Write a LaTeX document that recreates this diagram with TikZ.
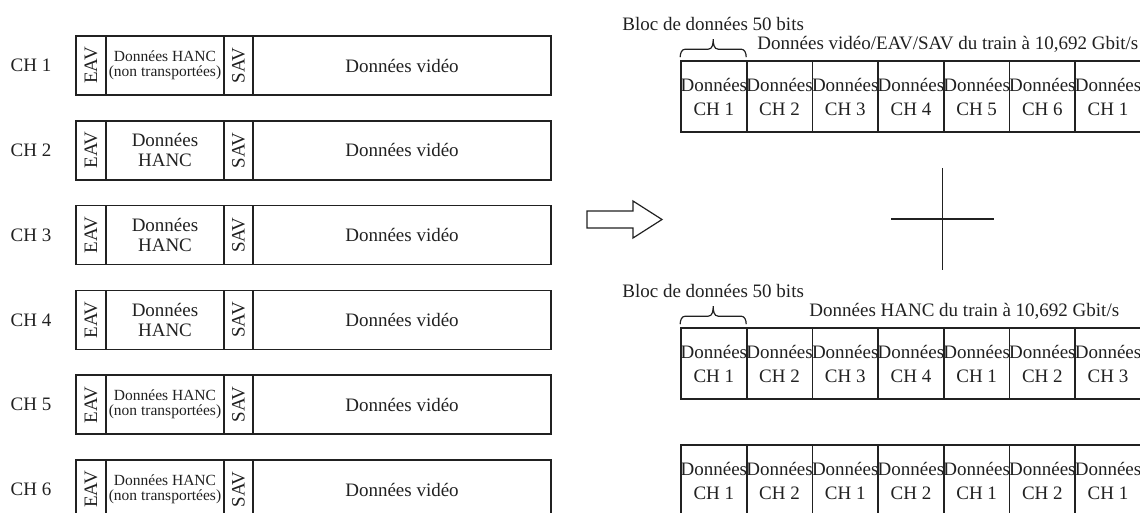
\documentclass[tikz,border=0pt]{standalone}
\usepackage{fontspec}
\setmainfont{Liberation Serif}
\definecolor{ink}{gray}{0.13}
\newcommand{\hntxt}{Données HANC\\(non transportées)}
\newcommand{\hhtxt}{Données\\HANC}
%% brace over the first block of a stream
\newcommand{\blocbrace}[1]{\draw[brc] ([yshift=1.5pt]#1.north west) to[out=90,in=180] ++(5,-8)
  -- ++(23,0) to[out=0,in=-90] ++(5,-10) to[out=-90,in=180] ++(5,10) -- ++(23,0)
  to[out=0,in=90] ++(5,8);}

\begin{document}
\begin{tikzpicture}[x=0.5pt,y=-0.5pt,
  every node/.style={inner sep=0pt, text=ink, font=\fontsize{9.5}{10}\selectfont},
  cell/.style={draw=ink, line width=0.8pt, minimum height=29.5pt, align=center},
  hsmall/.style={font=\fontsize{7.75}{7.5}\selectfont},
  hbig/.style={font=\fontsize{9.5}{10}\selectfont},
  blk/.style={draw=ink, line width=0.8pt, minimum width=32.85pt, minimum height=35.5pt,
    align=center, font=\fontsize{9.5}{12}\selectfont},
  brc/.style={draw=ink, line width=0.6pt}]

  \clip (0,0) rectangle (1140,513);

  \newcommand\R{84.8}
  \newcommand\W{65.7}

  %% left: the six channels
  \foreach \i/\t/\s in {1/\hntxt/hsmall, 2/\hhtxt/hbig, 3/\hhtxt/hbig,
                        4/\hhtxt/hbig, 5/\hntxt/hsmall, 6/\hntxt/hsmall}{
    \pgfmathsetmacro\yy{65.5+\R*(\i-1)}
    \node (ch\i) at (31,\yy) {CH \i};
    \node[cell, minimum width=15pt] (eav\i) at (91,\yy) {\rotatebox{90}{EAV}};
    \node[cell, \s, minimum width=59pt] (hanc\i) at (165,\yy) {\t};
    \node[cell, minimum width=14.5pt] (sav\i) at (238.5,\yy) {\rotatebox{90}{SAV}};
    \node[cell, minimum width=149pt] (vid\i) at (402,\yy) {Données vidéo};
  }

  %% big arrow
  \draw[draw=ink, line width=0.6pt] (587,211) -- (633,211) -- (633,201) -- (662,219.5)
    -- (633,238) -- (633,228) -- (587,228) -- cycle;

  %% right: video/EAV/SAV stream
  \node[anchor=west] (bloc1) at (622,24) {Bloc de données 50 bits};
  \node[anchor=west] (flux1) at (757,44) {Données vidéo/EAV/SAV du train à 10,692 Gbit/s};
  \foreach \c [count=\k from 0] in {1,2,3,4,5,6,1}
    \node[blk] (va\k) at (713.85+\W*\k, 96.5) {\makebox[0pt]{Données}\\CH \c};
  \blocbrace{va0}

  %% plus sign
  \draw[draw=ink, line width=0.7pt] (891,219) -- (994,219) (942.5,168) -- (942.5,270);

  %% right: HANC streams
  \node[anchor=west] (bloc2) at (622,291) {Bloc de données 50 bits};
  \node[anchor=west] (flux2) at (809,311) {Données HANC du train à 10,692 Gbit/s};
  \foreach \c [count=\k from 0] in {1,2,3,4,1,2,3}
    \node[blk] (ha\k) at (713.85+\W*\k, 363.5) {\makebox[0pt]{Données}\\CH \c};
  \blocbrace{ha0}

  \foreach \c [count=\k from 0] in {1,2,1,2,1,2,1}
    \node[blk] (hb\k) at (713.85+\W*\k, 480.5) {\makebox[0pt]{Données}\\CH \c};

\end{tikzpicture}
\end{document}
